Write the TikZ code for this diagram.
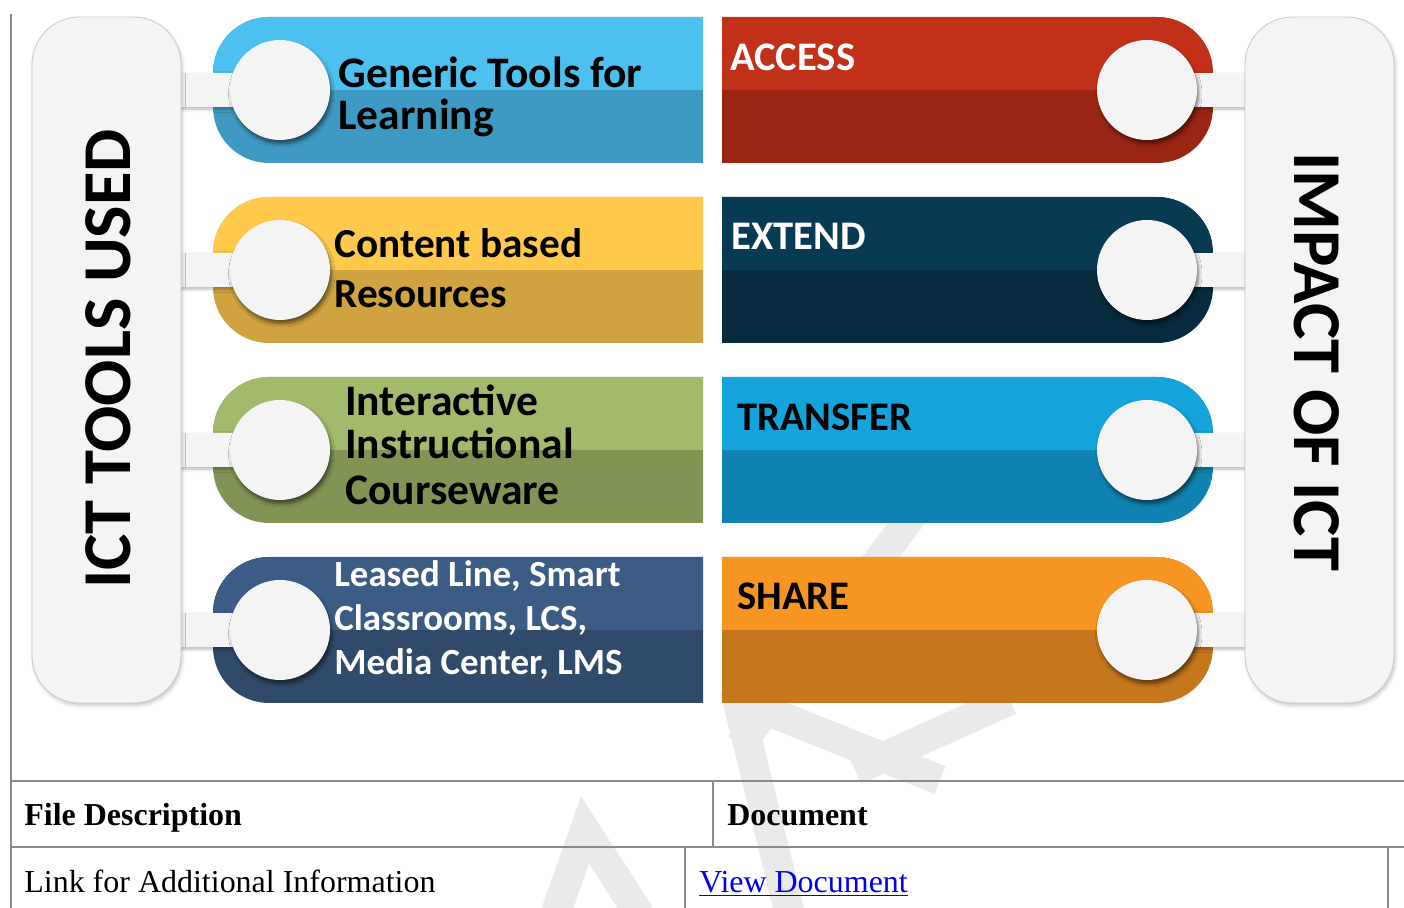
\documentclass[tikz,border=0pt]{standalone}
\usepackage{fontspec}
\setmainfont{Liberation Serif}
\newfontfamily\calibri{Carlito}
\usepackage{tikz}
\usetikzlibrary{shadows, shadows.blur}

\definecolor{panelgray}{HTML}{F4F4F4}
\definecolor{ruleGray}{HTML}{8A8A8A}
\definecolor{wmGray}{HTML}{EAEAEA}
\definecolor{blueTop}{HTML}{4CC0EE}
\definecolor{blueBot}{HTML}{3E9AC2}
\definecolor{yellowTop}{HTML}{FFC94B}
\definecolor{yellowBot}{HTML}{CFA340}
\definecolor{greenTop}{HTML}{A3B96B}
\definecolor{greenBot}{HTML}{829453}
\definecolor{navyTop}{HTML}{3B5C84}
\definecolor{navyBot}{HTML}{2F4A6B}
\definecolor{redTop}{HTML}{C1311A}
\definecolor{redBot}{HTML}{9B2513}
\definecolor{deepTop}{HTML}{073A53}
\definecolor{deepBot}{HTML}{062B3F}
\definecolor{cyanTop}{HTML}{14A3DB}
\definecolor{cyanBot}{HTML}{1183B2}
\definecolor{orangeTop}{HTML}{F69522}
\definecolor{orangeBot}{HTML}{C6761B}
\definecolor{linkBlue}{HTML}{0000EE}

\begin{document}
\begin{tikzpicture}[x=0.02cm, y=0.02cm,
  bar/.style 2 args={fill=#2, path picture={\fill[#1] (path picture bounding box.north west) rectangle (path picture bounding box.east);}},
  knob/.style={circle, fill=panelgray, minimum size=2cm, inner sep=0pt,
    blur shadow={shadow xshift=1pt, shadow yshift=-2.2pt, shadow opacity=50, shadow blur steps=6}},
  panel/.style={fill=panelgray, draw=black!20, line width=0.5pt, rounded corners=27pt,
    blur shadow={shadow xshift=0.8pt, shadow yshift=-1.5pt, shadow opacity=22}},
  strip/.style={fill=panelgray, blur shadow={shadow xshift=0pt, shadow yshift=-1.2pt, shadow opacity=30, shadow blur steps=4}},
  wmark/.style={draw=wmGray, line width=0.6cm},
  rule/.style={draw=ruleGray, line width=1.1pt},
  lbl/.style={anchor=base west, inner sep=0pt, font=\calibri\bfseries\fontsize{23.5}{28}\selectfont},
  big lbl/.style={anchor=base west, inner sep=0pt, font=\calibri\bfseries\fontsize{24.8}{29}\selectfont},
  small lbl/.style={anchor=base west, inner sep=0pt, font=\calibri\bfseries\fontsize{21}{25}\selectfont},
  head lbl/.style={anchor=base west, inner sep=0pt, font=\calibri\bfseries\fontsize{23.1}{27}\selectfont},
  side/.style={inner sep=0pt, font=\calibri\bfseries\fontsize{39}{45}\selectfont},
  cell/.style={anchor=base west, inner sep=0pt, font=\fontsize{18.2}{22}\selectfont}]
\useasboundingbox (0,0) rectangle (1404,-908);

% watermark
\draw[wmark] (950,-465) -- (740,-745);
\draw[wmark] (735,-690) -- (790,-915);
\draw[wmark] (740,-700) -- (940,-780);
\draw[wmark] (855,-770) -- (1010,-700);
\draw[wmark] (555,-915) -- (585,-830) -- (640,-915);

% left bars
\path[bar={blueTop}{blueBot}] (703,-17) -- (269,-17) arc[start angle=90, end angle=180, radius=56] -- (213,-107) arc[start angle=180, end angle=270, radius=56] -- (703,-163) -- cycle;
\path[bar={yellowTop}{yellowBot}] (703,-197) -- (269,-197) arc[start angle=90, end angle=180, radius=56] -- (213,-287) arc[start angle=180, end angle=270, radius=56] -- (703,-343) -- cycle;
\path[bar={greenTop}{greenBot}] (703,-377) -- (269,-377) arc[start angle=90, end angle=180, radius=56] -- (213,-467) arc[start angle=180, end angle=270, radius=56] -- (703,-523) -- cycle;
\path[bar={navyTop}{navyBot}] (703,-557) -- (269,-557) arc[start angle=90, end angle=180, radius=56] -- (213,-647) arc[start angle=180, end angle=270, radius=56] -- (703,-703) -- cycle;

% right bars
\path[bar={redTop}{redBot}] (722,-17) -- (1157,-17) arc[start angle=90, end angle=0, radius=56] -- (1213,-107) arc[start angle=0, end angle=-90, radius=56] -- (722,-163) -- cycle;
\path[bar={deepTop}{deepBot}] (722,-197) -- (1157,-197) arc[start angle=90, end angle=0, radius=56] -- (1213,-287) arc[start angle=0, end angle=-90, radius=56] -- (722,-343) -- cycle;
\path[bar={cyanTop}{cyanBot}] (722,-377) -- (1157,-377) arc[start angle=90, end angle=0, radius=56] -- (1213,-467) arc[start angle=0, end angle=-90, radius=56] -- (722,-523) -- cycle;
\path[bar={orangeTop}{orangeBot}] (722,-557) -- (1157,-557) arc[start angle=90, end angle=0, radius=56] -- (1213,-647) arc[start angle=0, end angle=-90, radius=56] -- (722,-703) -- cycle;

% strips
\path[strip] (181,-73) rectangle (280,-107);
\path[strip] (181,-253) rectangle (280,-287);
\path[strip] (181,-433) rectangle (280,-467);
\path[strip] (181,-613) rectangle (280,-647);
\path[strip] (1147,-73) rectangle (1245,-107);
\path[strip] (1147,-253) rectangle (1245,-287);
\path[strip] (1147,-433) rectangle (1245,-467);
\path[strip] (1147,-613) rectangle (1245,-647);

% side panels
\draw[panel] (32,-17) rectangle (181,-703);
\draw[panel] (1245,-17) rectangle (1394,-703);
\node[side, rotate=90] (tools) at (108,-359) {ICT TOOLS USED};
\node[side, rotate=-90] (impact) at (1317,-362) {IMPACT OF ICT};

% knobs
\node[knob] (k1) at (280,-90) {};
\node[knob] (k2) at (280,-270) {};
\node[knob] (k3) at (280,-450) {};
\node[knob] (k4) at (280,-630) {};
\node[knob] (m1) at (1147,-90) {};
\node[knob] (m2) at (1147,-270) {};
\node[knob] (m3) at (1147,-450) {};
\node[knob] (m4) at (1147,-630) {};

% labels
\node[big lbl] (generic) at (338,-88) {Generic Tools for};
\node[big lbl] (learning) at (338,-130) {Learning};
\node[lbl] (content) at (334,-258) {Content based};
\node[lbl] (resources) at (334,-308) {Resources};
\node[big lbl] (interactive) at (345,-416) {Interactive};
\node[big lbl] (instructional) at (345,-459) {Instructional};
\node[big lbl] (courseware) at (345,-505) {Courseware};
\node[small lbl, white] (leased) at (334,-587) {Leased Line, Smart};
\node[small lbl, white] (classrooms) at (334,-631) {Classrooms, LCS,};
\node[small lbl, white] (media) at (334,-675) {Media Center, LMS};
\node[head lbl, white] (access) at (730,-71) {ACCESS};
\node[head lbl, white] (extend) at (731,-250) {EXTEND};
\node[head lbl] (transfer) at (737,-431) {TRANSFER};
\node[head lbl] (share) at (737,-610) {SHARE};

% table
\draw[rule] (11,-14) -- (11,-908);
\draw[rule] (11,-781) -- (1404,-781);
\draw[rule] (11,-847) -- (1404,-847);
\draw[rule] (713,-781) -- (713,-847);
\draw[rule] (685,-847) -- (685,-908);
\draw[rule] (1388,-847) -- (1388,-908);
\node[cell, font=\bfseries\fontsize{18.2}{22}\selectfont] (filedesc) at (24,-826) {File Description};
\node[cell, font=\bfseries\fontsize{18.2}{22}\selectfont] (document) at (727,-826) {Document};
\node[cell] (linkinfo) at (24,-892) {Link for Additional Information};
\node[cell, text=linkBlue] (viewdoc) at (699,-892) {\underline{View Document}};
\end{tikzpicture}
\end{document}
